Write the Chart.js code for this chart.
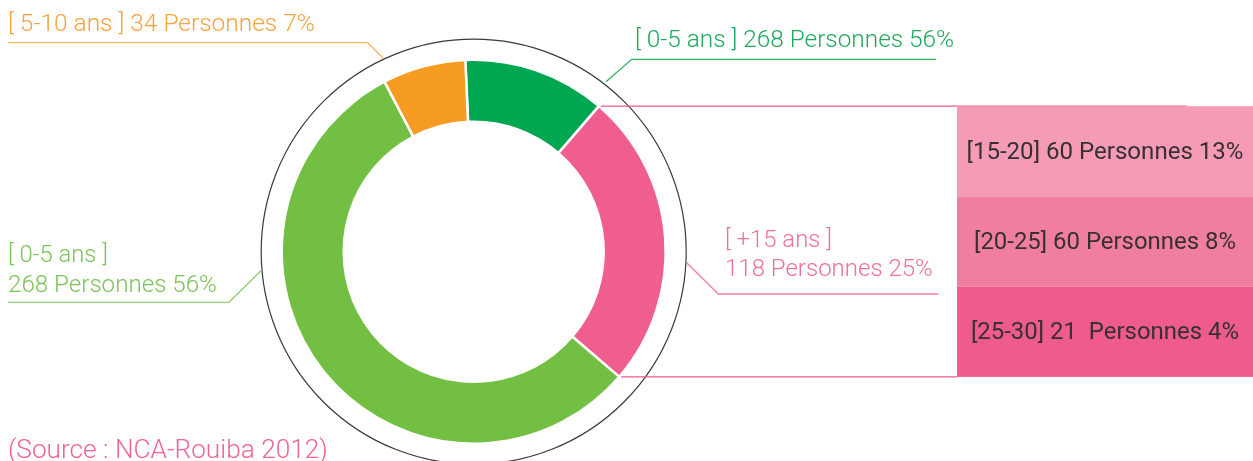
<!DOCTYPE html>
<html>
<head>
<meta charset="utf-8">
<script src="https://cdn.jsdelivr.net/npm/chart.js@4.4.0/dist/chart.umd.min.js"></script>
<style>
  html, body { margin: 0; padding: 0; background: #ffffff; }
  #wrap { width: 1253px; height: 461px; position: relative; }
</style>
</head>
<body>
<div id="wrap"><canvas id="c" width="1253" height="461"></canvas></div>
<script>
// ---- data ----
const categories = ['[ 0-5 ans ]', '[ +15 ans ]', '[ 0-5 ans ]', '[ 5-10 ans ]'];
const shares = [12, 25, 56, 7];
const personnes = [268, 118, 268, 34];
const labelShares = [56, 25, 56, 7];
const subCategories = ['[15-20]', '[20-25]', '[25-30]'];
const subCounts = [60, 60, 21];
const subShares = [13, 8, 4];
const sourceText = '(Source : NCA-Rouiba 2012)';

// ---- styles ----
const sliceColors = ['#00a650', '#f05e90', '#72bf44', '#f69c22'];
const labelColors = ['#1fa95d', '#f0709b', '#7cc359', '#f7a33b'];
const boxColors = ['#f59bb5', '#f07f9f', '#ef5b8b'];
const FONT = 'Roboto, "Liberation Sans", Arial, sans-serif';

function fitText(ctx, text, x, y, targetW, align, weight) {
  let size = 20;
  ctx.font = weight + ' ' + size + 'px ' + FONT;
  const w = ctx.measureText(text).width;
  size = size * targetW / w;
  ctx.font = weight + ' ' + size.toFixed(2) + 'px ' + FONT;
  ctx.textAlign = align || 'left';
  ctx.textBaseline = 'alphabetic';
  ctx.fillText(text, x, y);
}
function poly(ctx, pts, color, lw) {
  ctx.beginPath();
  ctx.moveTo(pts[0][0], pts[0][1]);
  for (let i = 1; i < pts.length; i++) ctx.lineTo(pts[i][0], pts[i][1]);
  ctx.strokeStyle = color;
  ctx.lineWidth = lw || 1;
  ctx.stroke();
}

const decor = {
  id: 'decor',
  afterDatasetsDraw(chart) {
    const ctx = chart.ctx;
    const arcs = chart.getDatasetMeta(0).data;
    const a0 = arcs[0];
    const cx = a0.x, cy = a0.y;
    ctx.save();
    // thin outer ring
    ctx.beginPath();
    ctx.arc(cx, cy, 212.5, 0, Math.PI * 2);
    ctx.strokeStyle = '#3a3a3a';
    ctx.lineWidth = 1.2;
    ctx.stroke();

    // pink slice connectors to breakdown boxes
    const pink = arcs[1];
    const R = pink.outerRadius;
    const p1 = [cx + R * Math.cos(pink.startAngle), cy + R * Math.sin(pink.startAngle)];
    const p2 = [cx + R * Math.cos(pink.endAngle), cy + R * Math.sin(pink.endAngle)];
    const boxL = 957, boxR = 1253;
    const boxTop = p1[1], boxBot = p2[1];
    poly(ctx, [[p1[0] + 2, p1[1]], [1187, p1[1]]], '#ee5a8a', 1.2);
    poly(ctx, [[p2[0] + 2, p2[1]], [boxL, p2[1]]], '#ee5a8a', 1.2);

    // breakdown boxes
    const bh = (boxBot - boxTop) / subCategories.length;
    for (let i = 0; i < subCategories.length; i++) {
      ctx.fillStyle = boxColors[i];
      ctx.fillRect(boxL, boxTop + i * bh, boxR - boxL, bh);
    }
    ctx.fillStyle = '#363032';
    const boxW = [277, 262, 268];
    const gap = ['', '', ' '];
    for (let i = 0; i < subCategories.length; i++) {
      const t = subCategories[i] + ' ' + subCounts[i] + ' ' + gap[i] + 'Personnes ' + subShares[i] + '%';
      fitText(ctx, t, (boxL + boxR) / 2, boxTop + i * bh + bh / 2 + 7.5, boxW[i], 'center', '400');
    }

    // orange label (5-10)
    ctx.fillStyle = labelColors[3];
    fitText(ctx, categories[3] + ' ' + personnes[3] + ' Personnes ' + labelShares[3] + '%', 8, 30.5, 307, 'left', '300');
    poly(ctx, [[8, 42.7], [367.7, 42.7], [383.3, 58.3]], '#f9b766', 1.3);

    // dark green label
    ctx.fillStyle = labelColors[0];
    fitText(ctx, categories[0] + ' ' + personnes[0] + ' Personnes ' + labelShares[0] + '%', 635, 46.5, 319, 'left', '300');
    poly(ctx, [[936, 59.3], [631.7, 59.3], [606, 81.7]], '#2fb063', 1.3);

    // pink label (+15)
    ctx.fillStyle = labelColors[1];
    fitText(ctx, categories[1], 725, 246.5, 107, 'left', '300');
    fitText(ctx, personnes[1] + ' Personnes ' + labelShares[1] + '%', 725, 276, 208, 'left', '300');
    poly(ctx, [[686.7, 262.7], [718.3, 294], [938.3, 294]], '#f27ca4', 1.3);

    // light green label
    ctx.fillStyle = labelColors[2];
    fitText(ctx, categories[2], 8, 262.3, 100, 'left', '300');
    fitText(ctx, personnes[2] + ' Personnes ' + labelShares[2] + '%', 8, 291.7, 209, 'left', '300');
    poly(ctx, [[8, 302.3], [229, 302.3], [261, 270.7]], '#94cf78', 1.3);

    // source
    ctx.fillStyle = '#ef6496';
    fitText(ctx, sourceText, 8, 457.5, 320, 'left', '300');
    ctx.restore();
  }
};

new Chart(document.getElementById('c'), {
  type: 'doughnut',
  data: {
    labels: categories,
    datasets: [{
      data: shares,
      backgroundColor: sliceColors,
      borderColor: '#ffffff',
      borderWidth: 2.5,
      hoverOffset: 0
    }]
  },
  options: {
    responsive: false,
    animation: false,
    rotation: -2.5,
    radius: 192,
    cutout: '67.7%',
    layout: { padding: { left: 0, right: 305.6, top: 50, bottom: 7.6 } },
    plugins: { legend: { display: false }, tooltip: { enabled: false }, title: { display: false } }
  },
  plugins: [decor]
});
</script>
</body>
</html>
